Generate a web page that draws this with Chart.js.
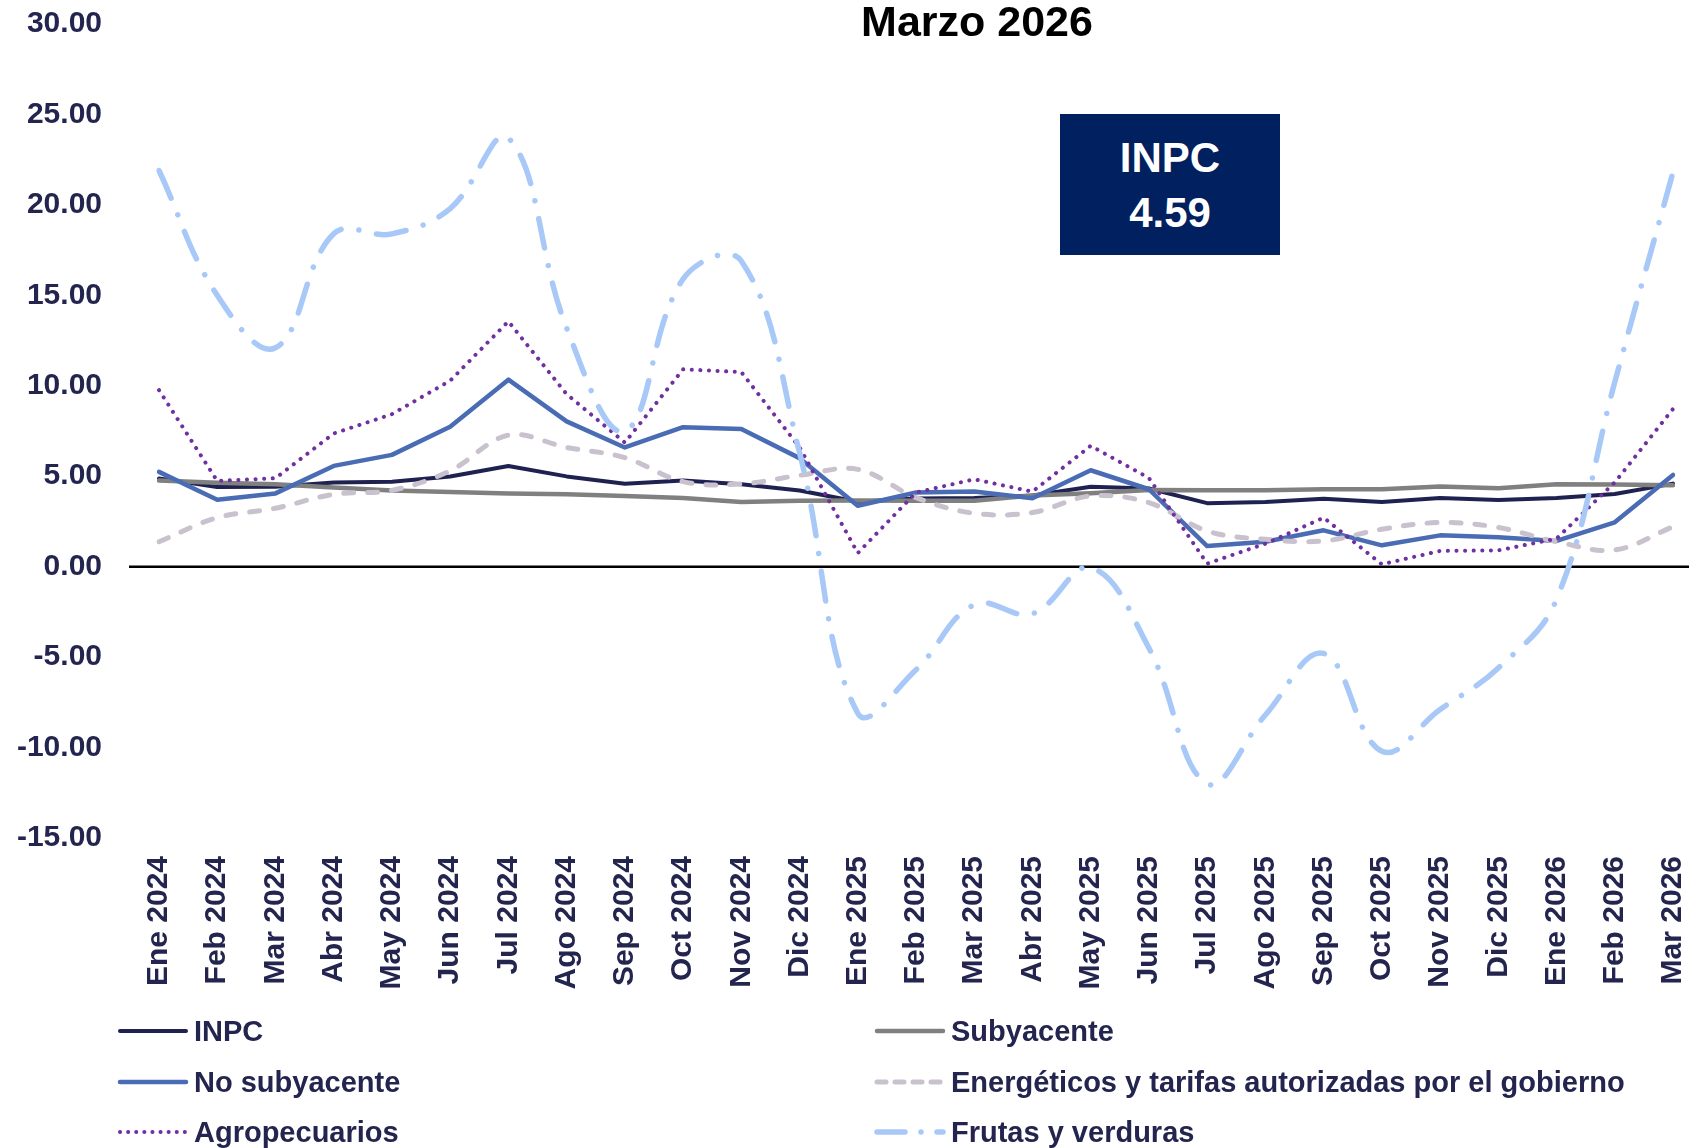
<!DOCTYPE html>
<html>
<head>
<meta charset="utf-8">
<script src="https://cdn.jsdelivr.net/npm/chart.js@4.4.1/dist/chart.umd.min.js"></script>
<style>
  html, body { margin: 0; padding: 0; background: #ffffff; overflow: hidden; }
  #wrap { position: relative; width: 1689px; height: 1148px; font-family: "Liberation Sans", Arial, sans-serif; }
  #chart { position: absolute; left: 0; top: 0; }
  .title { position: absolute; left: 977px; top: 0px; transform: translateX(-50%); font-size: 43px; line-height: 43px; font-weight: bold; color: #000; white-space: nowrap; }
  .box { position: absolute; left: 1060px; top: 114px; width: 220px; height: 141px; background: #002060; color: #fff; font-weight: bold; font-size: 42px; }
  .box span { position: absolute; left: 0; width: 100%; text-align: center; line-height: 42px; }
  .lg-text { position: absolute; font-size: 29px; line-height: 34px; font-weight: bold; color: #23254f; white-space: nowrap; }
  .lg-svg { position: absolute; }
</style>
</head>
<body>
<div id="wrap">
  <canvas id="chart" width="1689" height="1148"></canvas>
  <div class="title">Marzo 2026</div>
  <div class="box"><span style="top:23px">INPC</span><span style="top:78px">4.59</span></div>
  <div id="legend"></div>
</div>
<script>
// ---- Data ----
const categories = ["Ene 2024","Feb 2024","Mar 2024","Abr 2024","May 2024","Jun 2024","Jul 2024","Ago 2024","Sep 2024","Oct 2024","Nov 2024","Dic 2024",
                    "Ene 2025","Feb 2025","Mar 2025","Abr 2025","May 2025","Jun 2025","Jul 2025","Ago 2025","Sep 2025","Oct 2025","Nov 2025","Dic 2025",
                    "Ene 2026","Feb 2026","Mar 2026"];
const inpc         = [4.88,4.40,4.42,4.65,4.69,4.98,5.57,4.99,4.58,4.76,4.55,4.21,3.59,3.77,3.80,3.93,4.42,4.32,3.51,3.57,3.76,3.57,3.80,3.69,3.79,4.02,4.59];
const subyacente   = [4.76,4.64,4.55,4.37,4.21,4.13,4.05,4.00,3.91,3.80,3.58,3.65,3.66,3.65,3.64,3.93,4.06,4.24,4.23,4.23,4.28,4.28,4.43,4.33,4.55,4.54,4.50];
const noSubyacente = [5.24,3.70,4.05,5.57,6.18,7.73,10.34,8.03,6.59,7.71,7.61,6.00,3.37,4.10,4.15,3.78,5.33,4.28,1.14,1.38,2.01,1.18,1.73,1.62,1.42,2.45,5.07];
const energeticos  = [1.38,2.71,3.23,4.00,4.22,5.30,7.27,6.59,6.03,4.70,4.57,5.05,5.38,3.82,2.95,2.99,3.91,3.54,1.97,1.51,1.42,2.07,2.44,2.17,1.38,0.92,2.21];
const agropecuarios= [9.76,4.74,4.89,7.36,8.43,10.28,13.56,9.54,6.86,10.91,10.76,6.60,0.75,4.10,4.83,4.15,6.68,4.90,0.17,1.27,2.71,0.13,0.87,0.90,1.55,4.66,8.72];
const frutas       = [21.9,15.0,12.1,18.4,18.4,19.8,23.7,13.2,7.5,15.9,16.9,6.3,-8.1,-5.7,-2.1,-2.6,-0.05,-4.5,-12.0,-8.2,-4.8,-10.2,-7.9,-5.6,-1.8,10.2,21.8];
const yTicks = { min: -15, max: 30, step: 5 };

const FONT = '"Liberation Sans", Arial, sans-serif';
const TICK_COLOR = '#23254f';

const series = [
  { label: 'INPC', data: inpc, color: '#1f2250', width: 4, dash: [], legendDash: '', tension: 0 },
  { label: 'Subyacente', data: subyacente, color: '#808080', width: 4.5, dash: [], legendDash: '', tension: 0 },
  { label: 'No subyacente', data: noSubyacente, color: '#4a6cb4', width: 4.5, dash: [], legendDash: '', tension: 0 },
  { label: 'Energéticos y tarifas autorizadas por el gobierno', data: energeticos, color: '#c9c1cd', width: 5, dash: [10, 14], legendDash: '9 9', tension: 0.35 },
  { label: 'Agropecuarios', data: agropecuarios, color: '#7030a0', width: 4, dash: [0.1, 8.5], legendDash: '0.1 8', tension: 0 },
  { label: 'Frutas y verduras', data: frutas, color: '#a8c9f8', width: 5.5, dash: [30, 18, 0.01, 18], legendDash: '28 16 0.01 16', tension: 0.4 }
];

const datasets = series.map((s, i) => ({
  label: s.label,
  data: s.data,
  borderColor: s.color,
  backgroundColor: s.color,
  borderWidth: s.width,
  borderDash: s.dash,
  borderCapStyle: 'round',
  borderJoinStyle: 'round',
  tension: s.tension,
  pointRadius: 0,
  fill: false,
  order: series.length - i
}));

// Zero line: drawn at the y scale's pixel for 0, reaching a little left of the first category
const zeroLine = {
  id: 'zeroLine',
  beforeDatasetsDraw(chart) {
    const { ctx, chartArea, scales } = chart;
    const y = scales.y.getPixelForValue(0);
    ctx.save();
    ctx.strokeStyle = '#000000';
    ctx.lineWidth = 2.5;
    ctx.beginPath();
    ctx.moveTo(chartArea.left - 30, y);
    ctx.lineTo(chart.width, y);
    ctx.stroke();
    ctx.restore();
  }
};

new Chart(document.getElementById('chart'), {
  type: 'line',
  data: { labels: categories, datasets },
  plugins: [zeroLine],
  options: {
    responsive: false,
    animation: false,
    devicePixelRatio: 1,
    layout: { padding: { top: 24, right: 16, bottom: 0, left: 0 } },
    plugins: { legend: { display: false }, title: { display: false }, tooltip: { enabled: false } },
    scales: {
      x: {
        type: 'category',
        offset: false,
        grid: { display: false, drawTicks: false },
        border: { display: false },
        ticks: {
          autoSkip: false, maxRotation: 90, minRotation: 90, padding: 18,
          color: TICK_COLOR, font: { family: FONT, size: 30, weight: 'bold' }
        },
        afterFit(scale) { scale.height = 310; scale.paddingLeft = 0; scale.paddingRight = 0; }
      },
      y: {
        min: yTicks.min, max: yTicks.max,
        border: { display: false },
        grid: { display: false, drawTicks: false },
        ticks: {
          stepSize: yTicks.step, padding: 57,
          color: TICK_COLOR, font: { family: FONT, size: 30, weight: 'bold' },
          callback: v => Number(v).toFixed(2)
        },
        afterFit(scale) { scale.width = 159; scale.paddingTop = 0; scale.paddingBottom = 0; }
      }
    }
  }
});

// ---- HTML legend (two columns, three rows) built from the series list ----
const legend = document.getElementById('legend');
const colX = [{ line: 116, text: 194 }, { line: 873, text: 951 }];
const rowY = [1031, 1082, 1132];
series.forEach((s, i) => {
  const c = colX[i % 2], r = rowY[Math.floor(i / 2)];
  const svgNS = 'http://www.w3.org/2000/svg';
  const svg = document.createElementNS(svgNS, 'svg');
  svg.setAttribute('width', '74'); svg.setAttribute('height', '12');
  svg.setAttribute('class', 'lg-svg');
  svg.style.left = c.line + 'px'; svg.style.top = (r - 6) + 'px';
  const ln = document.createElementNS(svgNS, 'line');
  ln.setAttribute('x1', '4'); ln.setAttribute('y1', '6'); ln.setAttribute('x2', '70'); ln.setAttribute('y2', '6');
  ln.setAttribute('stroke', s.color); ln.setAttribute('stroke-width', s.width);
  ln.setAttribute('stroke-linecap', 'round');
  if (s.legendDash) ln.setAttribute('stroke-dasharray', s.legendDash);
  svg.appendChild(ln);
  legend.appendChild(svg);
  const t = document.createElement('div');
  t.className = 'lg-text';
  t.style.left = c.text + 'px'; t.style.top = (r - 17) + 'px';
  t.textContent = s.label;
  legend.appendChild(t);
});
</script>
</body>
</html>
